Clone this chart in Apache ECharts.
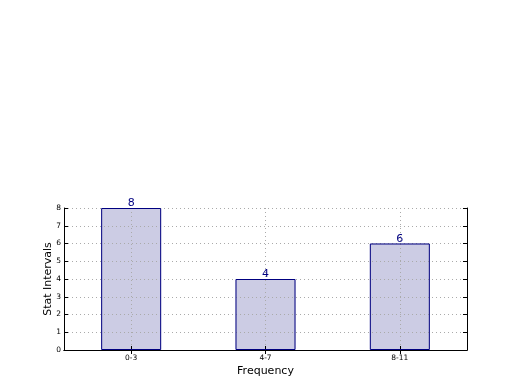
<!DOCTYPE html>
<html><head><meta charset="utf-8">
<script src="https://cdn.jsdelivr.net/npm/echarts@6/dist/echarts.min.js"></script>
<style>html,body{margin:0;padding:0;background:#fff}#c{width:520px;height:390px}</style>
</head><body><div id="c"></div>
<script>
var categories = ['0-3', '4-7', '8-11'];
var values = [8, 4, 6];
var yTicks = [0, 1, 2, 3, 4, 5, 6, 7, 8];
var gridCats = ['', '0-3', '', '4-7', '', '8-11', ''];

var chart = echarts.init(document.getElementById('c'), null, {renderer: 'canvas'});
var font = 'DejaVu Sans';
var dotted = {show: true, lineStyle: {color: '#aaaaaa', type: [1, 3], width: 1}};
chart.setOption({
  animation: false,
  grid: {left: 64, right: 53, top: 208, bottom: 40, containLabel: false},
  xAxis: [
    {type: 'category', data: categories, position: 'bottom', z: 5,
     name: 'Frequency', nameLocation: 'middle', nameGap: 16,
     nameTextStyle: {fontFamily: font, fontSize: 11, color: '#000'},
     axisLine: {show: true, lineStyle: {color: '#000', width: 1}},
     axisTick: {show: true, inside: true, alignWithLabel: true, length: 4, lineStyle: {color: '#000'}},
     axisLabel: {fontFamily: font, fontSize: 7.5, color: '#000', margin: 4},
     splitLine: {show: false}},
    {type: 'category', data: gridCats, boundaryGap: false, position: 'top', z: 5,
     axisLine: {show: true, lineStyle: {color: '#000', width: 1}},
     axisTick: {show: true, inside: true, length: 4, interval: function (i) { return i % 2 === 1; }, lineStyle: {color: '#000'}},
     axisLabel: {show: false},
     splitLine: {show: true, interval: function (i) { return i % 2 === 1; }, lineStyle: {color: '#aaaaaa', type: [1, 3], width: 1}}}
  ],
  yAxis: [
    {type: 'value', min: 0, max: 8, interval: 1, position: 'left', z: 5,
     name: 'Stat Intervals', nameLocation: 'middle', nameGap: 10, nameMoveOverlap: false,
     nameTextStyle: {fontFamily: font, fontSize: 11, color: '#000'},
     axisLine: {show: true, lineStyle: {color: '#000', width: 1}},
     axisTick: {show: true, inside: true, length: 4, lineStyle: {color: '#000'}},
     axisLabel: {fontFamily: font, fontSize: 7.5, color: '#000', margin: 3,
                 formatter: function (v) { return yTicks.indexOf(v) >= 0 ? String(v) : ''; }},
     splitLine: dotted},
    {type: 'value', min: 0, max: 8, interval: 1, position: 'right', z: 5,
     axisLine: {show: true, lineStyle: {color: '#000', width: 1}},
     axisTick: {show: true, inside: true, length: 4, lineStyle: {color: '#000'}},
     axisLabel: {show: false},
     splitLine: {show: false}}
  ],
  series: [{
    type: 'bar', data: values, xAxisIndex: 0, yAxisIndex: 0,
    barWidth: 60, z: 1,
    itemStyle: {color: 'rgba(204,204,228,1)', borderWidth: 0},
    label: {show: false}
  }, {
    type: 'bar', data: values, xAxisIndex: 0, yAxisIndex: 0,
    barWidth: 60, barGap: '-100%', z: 6, silent: true,
    itemStyle: {color: 'rgba(0,0,0,0)', borderColor: '#000080', borderWidth: 1},
    label: {show: true, position: 'top', distance: -1, fontFamily: font, fontSize: 11, color: '#000080'}
  }]
});
</script></body></html>
